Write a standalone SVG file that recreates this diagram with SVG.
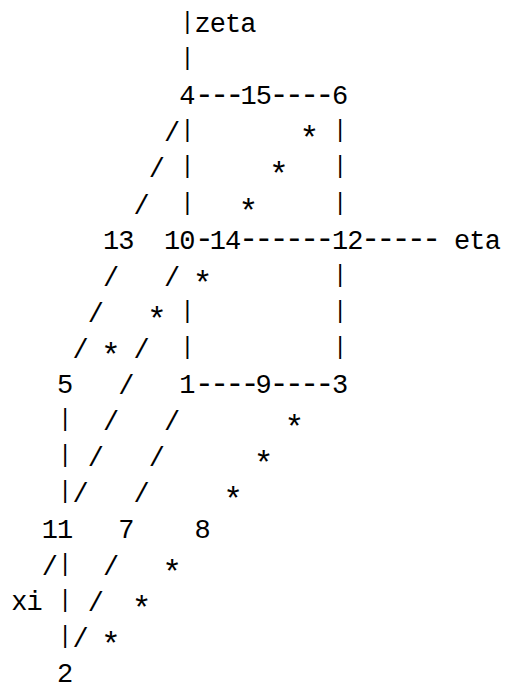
<svg xmlns="http://www.w3.org/2000/svg" width="505" height="687" viewBox="0 0 505 687">
<style>
text{font-family:"Liberation Mono","DejaVu Sans Mono",monospace;fill:#000;font-size:27px;letter-spacing:-.93px;white-space:pre}
.p{font-size:23px;text-anchor:middle;letter-spacing:0}
.s{text-anchor:middle;letter-spacing:0}
.a{font-size:33px;text-anchor:middle;letter-spacing:0}
.d{font-size:32px;letter-spacing:-3.93px}
</style>
<rect width="505" height="687" fill="#fff"/>
<g id="connectors">
<g id="pipes" transform="translate(0 -3)">
<text class="p" x="187.4" y="32">|</text><text class="p" x="187.4" y="68.1">|</text>
<text class="p" x="187.4" y="140.3">|</text><text class="p" x="340.1" y="140.3">|</text>
<text class="p" x="187.4" y="176.4">|</text><text class="p" x="340.1" y="176.4">|</text>
<text class="p" x="187.4" y="212.6">|</text><text class="p" x="340.1" y="212.6">|</text>
<text class="p" x="340.1" y="284.8">|</text>
<text class="p" x="187.4" y="320.9">|</text><text class="p" x="340.1" y="320.9">|</text>
<text class="p" x="187.4" y="357">|</text><text class="p" x="340.1" y="357">|</text>
<text class="p" x="65.2" y="429.2">|</text><text class="p" x="65.2" y="465.3">|</text><text class="p" x="65.2" y="501.4">|</text>
<text class="p" x="65.2" y="573.7">|</text><text class="p" x="65.2" y="609.8">|</text><text class="p" x="65.2" y="645.9">|</text>
</g>
<g id="slashes" transform="translate(0 1)">
<text class="s" x="172.1" y="140.3">/</text><text class="s" x="156.8" y="176.4">/</text><text class="s" x="141.6" y="212.6">/</text>
<text class="s" x="111" y="284.8">/</text><text class="s" x="172.1" y="284.8">/</text>
<text class="s" x="95.8" y="320.9">/</text>
<text class="s" x="80.5" y="357">/</text><text class="s" x="141.6" y="357">/</text>
<text class="s" x="126.3" y="393.1">/</text>
<text class="s" x="111" y="429.2">/</text><text class="s" x="172.1" y="429.2">/</text>
<text class="s" x="95.8" y="465.3">/</text><text class="s" x="156.8" y="465.3">/</text>
<text class="s" x="80.5" y="501.4">/</text><text class="s" x="141.6" y="501.4">/</text>
<text class="s" x="49.9" y="573.7">/</text><text class="s" x="111" y="573.7">/</text>
<text class="s" x="95.8" y="609.8">/</text>
<text class="s" x="80.5" y="645.9">/</text>
</g>
<g id="stars" transform="translate(0 9)">
<text class="a" x="309.5" y="140.3">*</text><text class="a" x="279" y="176.4">*</text><text class="a" x="248.5" y="212.6">*</text>
<text class="a" x="202.6" y="284.8">*</text><text class="a" x="156.8" y="320.9">*</text><text class="a" x="111" y="357">*</text>
<text class="a" x="294.3" y="429.2">*</text><text class="a" x="263.7" y="465.3">*</text><text class="a" x="233.2" y="501.4">*</text>
<text class="a" x="172.1" y="573.7">*</text><text class="a" x="141.6" y="609.8">*</text><text class="a" x="111" y="645.9">*</text>
</g>
<g id="dashes" transform="translate(0 -.5)">
<text class="d" x="194.7" y="104.2">---</text><text class="d" x="269.4" y="104.2">----</text>
<text class="d" x="194.7" y="248.7">-</text><text class="d" x="238.9" y="248.7">------</text><text class="d" x="361" y="248.7">-----</text>
<text class="d" x="194.7" y="393.1">----</text><text class="d" x="269.4" y="393.1">----</text>
</g>
</g>
<g id="label-zeta"><text x="194.5" y="32">zeta</text></g>
<g id="label-eta"><text x="454.1" y="248.7">eta</text></g>
<g id="label-xi"><text x="11.3" y="609.8">xi</text></g>
<g id="n4"><text x="179.3" y="104.2">4</text></g>
<g id="n15"><text x="240.4" y="104.2">15</text></g>
<g id="n6"><text x="332" y="104.2">6</text></g>
<g id="n13"><text x="102.9" y="248.7">13</text></g>
<g id="n10"><text x="164" y="248.7">10</text></g>
<g id="n14"><text x="209.8" y="248.7">14</text></g>
<g id="n12"><text x="332" y="248.7">12</text></g>
<g id="n5"><text x="57.1" y="393.1">5</text></g>
<g id="n1"><text x="179.3" y="393.1">1</text></g>
<g id="n9"><text x="255.6" y="393.1">9</text></g>
<g id="n3"><text x="332" y="393.1">3</text></g>
<g id="n11"><text x="41.8" y="537.6">11</text></g>
<g id="n7"><text x="118.2" y="537.6">7</text></g>
<g id="n8"><text x="194.5" y="537.6">8</text></g>
<g id="n2"><text x="57.1" y="682">2</text></g>
</svg>
